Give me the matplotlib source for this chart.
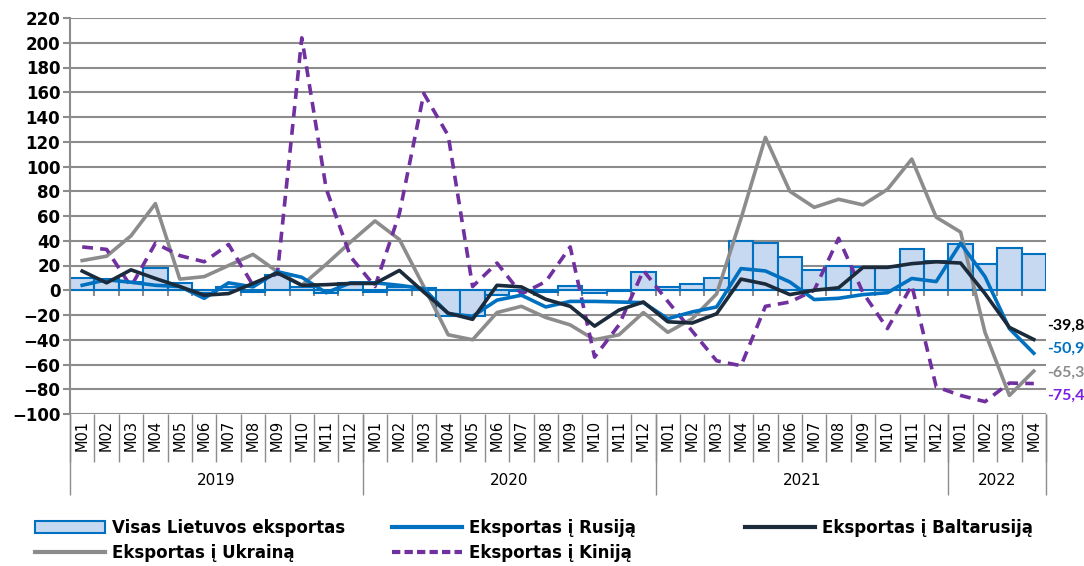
import numpy as np
import matplotlib
matplotlib.use("Agg")
import matplotlib.pyplot as plt
from matplotlib.patches import Patch
from matplotlib.lines import Line2D

# Category labels
months = ["M%02d" % m for m in range(1, 13)] * 3 + ["M01", "M02", "M03", "M04"]
years = ["2019", "2020", "2021", "2022"]
year_len = [12, 12, 12, 4]

# Series values (% change)
visas = [9.5, 9, 6.5, 18, 6, -2.5, 3, -1.5, 12.5, 2.7, -2.5, 6,
         -1.5, 3, 1.5, -20.5, -20.5, -3.5, -1, -1.5, 3.3, -2, -1, 15,
         2.5, 5.4, 9.5, 40, 38.5, 27, 16.5, 20, 18.5, 18.5, 33.7, 23.5,
         37, 21, 34, 29]
rusija = [4, 8.5, 6.5, 4, 3, -6.5, 6, 2.7, 15, 10.5, -2, 6,
          6, 4, 1.3, -19, -21, -8, -4, -13.5, -9, -9, -9.5, -10,
          -23, -17.5, -13.5, 17.5, 15.6, 6.7, -7.5, -6.5, -3.5, -2, 9.5, 7,
          38, 11, -31, -50.9]
baltarusija = [15.5, 6, 16.5, 9.5, 3, -4, -2.7, 5.5, 14, 4, 4.5, 5.5,
               5.5, 16, -1.5, -18.5, -23.5, 4, 2.7, -7.3, -13, -29, -16, -9.5,
               -25.5, -26.5, -19, 9, 5, -3.5, 0, 2, 18.5, 18.5, 21.5, 23,
               22, -2.7, -30, -39.8]
ukraina = [24, 27.5, 44, 70, 9, 11, 20, 29, 15, 4, 21, 39,
           56, 41, 3, -36, -40, -18, -13, -22, -28, -40, -36, -18,
           -34, -23, -3, 58, 123.5, 80, 67, 73.5, 69, 81.5, 106, 59,
           47, -34, -85, -65.3]
kinija = [35, 33, 3, 38, 28, 23, 37, 4, 13.5, 204, 82, 27,
          3, 62, 159, 125, 3, 22, -3, 7, 35, -54, -28, 16,
          -9, -33, -57, -61, -13, -9.5, 0, 42, -2, -31, 4, -78,
          -85, -90, -75, -75.4]

# colours
c_bar = "#C6D9F1"
c_bar_edge = "#0070C0"
c_rus = "#0070C0"
c_blr = "#1C2B3B"
c_ukr = "#8C8C8C"
c_chn = "#7030A0"
c_grid = "#8C8C8C"

x = np.arange(len(months)) + 0.5

fig = plt.figure(figsize=(10.84, 5.66), dpi=100)
ax = fig.add_axes([70 / 1084, 1 - 414 / 566, (1046 - 70) / 1084, (414 - 18) / 566])

ax.bar(x, visas, width=1.0, color=c_bar, edgecolor=c_bar_edge, linewidth=1.5, zorder=2)
ax.plot(x, ukraina, color=c_ukr, lw=2.6, zorder=3)
ax.plot(x, kinija, color=c_chn, lw=2.6, linestyle=(0, (3, 2)), zorder=3)
ax.plot(x, rusija, color=c_rus, lw=2.6, zorder=4)
ax.plot(x, baltarusija, color=c_blr, lw=2.6, zorder=5)

ax.set_xlim(0, len(months))
ax.set_ylim(-100, 220)
ax.set_yticks(np.arange(-100, 221, 20))
ax.yaxis.grid(True, color=c_grid, lw=1.5, zorder=0)
ax.set_axisbelow(True)
for s in ["top", "right", "bottom"]:
    ax.spines[s].set_visible(False)
ax.spines["left"].set_color(c_grid)
ax.spines["left"].set_linewidth(1.5)
ax.tick_params(axis="y", length=5, color=c_grid, width=1.5, pad=2, labelsize=12)
for lab in ax.get_yticklabels():
    lab.set_fontweight("bold")

# small ticks on the zero line
ax.vlines(np.arange(1, len(months)), -5, 0, color=c_grid, lw=1.5, zorder=1)

# month labels
ax.set_xticks(x)
ax.set_xticklabels(months, rotation=90, fontsize=10.5)
ax.tick_params(axis="x", length=0, pad=4)

# separators under the axis
trans = ax.get_xaxis_transform()
bounds = np.cumsum([0] + year_len)
ax.vlines(np.arange(0, len(months) + 1), -0.121, 0, transform=trans,
          color=c_grid, lw=1, clip_on=False)
ax.vlines(bounds, -0.205, 0, transform=trans, color=c_grid, lw=1, clip_on=False)
for i, yr in enumerate(years):
    ax.text((bounds[i] + bounds[i + 1]) / 2, -0.168, yr, transform=trans,
            ha="center", va="center", fontsize=11)

# end labels
end_vals = [baltarusija[-1], rusija[-1], ukraina[-1], kinija[-1]]
end_cols = ["black", "#0070C0", "#8C8C8C", "#7A1EE6"]
end_y = [-29, -47, -67, -85]
for v, c, yy in zip(end_vals, end_cols, end_y):
    ax.text(len(months) + 0.05, yy, ("%.1f" % v).replace(".", ","), color=c,
            fontsize=11.5, fontweight="bold", family=["Lato", "DejaVu Sans"],
            ha="left", va="center", clip_on=False)

# legend, three columns placed by hand
h_visas = Patch(facecolor=c_bar, edgecolor=c_bar_edge, lw=1.5)
h_rus = Line2D([], [], color=c_rus, lw=3)
h_blr = Line2D([], [], color=c_blr, lw=3)
h_ukr = Line2D([], [], color=c_ukr, lw=3)
h_chn = Line2D([], [], color=c_chn, lw=3, linestyle=(0, (2, 1)))
cols = [([h_visas, h_ukr], ["Visas Lietuvos eksportas", "Eksportas į Ukrainą"], 35),
        ([h_rus, h_chn], ["Eksportas į Rusiją", "Eksportas į Kiniją"], 392),
        ([h_blr], ["Eksportas į Baltarusiją"], 745)]
for hs, ls, px in cols:
    fig.legend(hs, ls, loc="upper left", bbox_to_anchor=(px / 1084, 1 - 519 / 566),
               frameon=False, borderpad=0, borderaxespad=0, handlelength=4.2,
               handletextpad=0.4, labelspacing=0.4,
               prop={"weight": "bold", "size": 12})

fig.savefig("out.png", dpi=100)
